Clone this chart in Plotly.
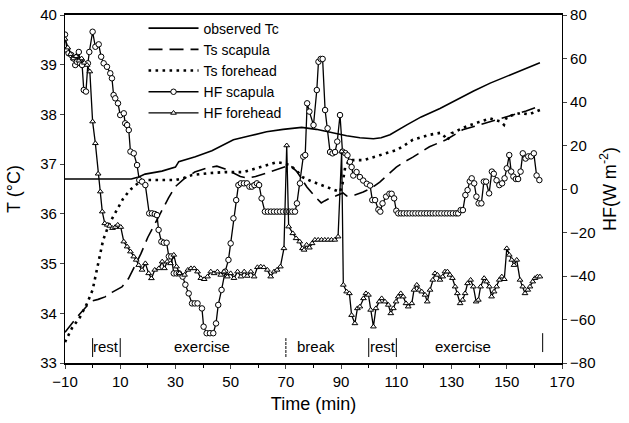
import plotly.graph_objects as go

# ---------------- data ----------------
tc_t = [-10, 0, 10, 14, 16.7, 19, 25.1, 30, 31.2, 37.2, 43.2, 51, 57, 63, 69, 75.7, 81, 87.2, 92, 96.8,
        101.7, 104.5, 107.7, 113.8, 119, 125.8, 132, 138, 144, 150, 156, 162]
tc_v = [36.70, 36.70, 36.70, 36.70, 36.74, 36.80, 36.86, 36.94, 37.05, 37.15, 37.27, 37.49, 37.57, 37.65, 37.70,
        37.74, 37.70, 37.62, 37.57, 37.53, 37.51, 37.53, 37.59, 37.79, 37.95, 38.12, 38.30, 38.47, 38.63, 38.77,
        38.91, 39.04]

tss_t = [-10, -6, -2, 0, 2, 4.5, 7, 10.6, 13, 15, 17.5, 20, 22.5, 25, 27.5, 29.8, 33, 37, 41.4, 45, 48, 51,
         53.5, 56, 59, 63, 67, 71.5, 74, 77.6, 80.5, 82.8, 84, 86, 88, 90.7, 92, 95, 98, 101, 104, 107, 110,
         113, 116, 122, 128, 134, 140, 146.5, 152, 157, 162]
tss_v = [33.62, 33.90, 34.15, 34.25, 34.28, 34.33, 34.42, 34.53, 34.70, 34.93, 35.20, 35.53, 35.80, 36.08,
         36.32, 36.54, 36.70, 36.84, 36.92, 36.96, 36.90, 36.82, 36.75, 36.72, 36.75, 36.82, 36.90, 36.98,
         36.85, 36.54, 36.35, 36.22, 36.26, 36.32, 36.36, 36.42, 36.36, 36.38, 36.44, 36.52, 36.64, 36.80,
         36.94, 37.05, 37.14, 37.35, 37.49, 37.69, 37.79, 37.89, 37.99, 38.07, 38.17]

tsf_t = [-10, -7.5, -4.6, -2, 0, 2, 3.8, 6, 8.8, 11, 13.5, 17, 20, 25, 30, 33, 36, 42.5, 48, 54.5, 57, 60.6,
         64, 66.8, 69, 71.5, 74, 76, 79, 82, 86, 89.6, 90.5, 91.5, 93, 98, 104, 110, 113, 116, 122, 126,
         127.6, 128.5, 130, 135, 140, 144, 148, 149, 150, 155, 158, 162]
tsf_v = [33.42, 33.70, 33.92, 34.20, 34.47, 35.00, 35.47, 35.80, 36.08, 36.30, 36.48, 36.64, 36.68, 36.68,
         36.68, 36.72, 36.78, 36.82, 36.84, 36.84, 36.88, 36.94, 37.00, 37.04, 37.02, 36.98, 36.86, 36.74,
         36.66, 36.60, 36.52, 36.44, 36.60, 36.95, 37.08, 37.08, 37.18, 37.28, 37.38, 37.49, 37.59, 37.63,
         37.55, 37.48, 37.62, 37.75, 37.85, 37.92, 37.85, 37.79, 37.95, 38.03, 38.00, 38.09]

hfs_t = [-10, -9.3, -8.7, -7.7, -6.9, -6.3, -5.7, -5, -4.5, -3.8, -3.2, -2.4, -1.7, -1.2, 0, 1, 2.2, 3.1, 4,
         5.2, 6.4, 7, 7.6, 8.2, 9.2, 10, 11.3, 11.8, 12.5, 13.1, 13.7, 14.9, 16.1, 16.9, 17.9, 19.1, 20.5,
         21.5, 22.5, 23.3, 23.9, 24.9, 25.8, 26.8, 27.6, 28.5, 29.4, 30.4, 31.3, 32.6, 33.6, 34.8, 36, 37, 38,
         39.6, 40.2, 41.3, 42.5, 43.7, 44.7, 45.5, 46.7, 48, 49.2, 50, 51, 52, 52.8, 53.7, 54.8, 55.9, 56.8,
         57.7, 58.6, 59.5, 60.3, 61.2, 62.4, 63.5, 64.6, 65.7, 66.8, 67.9, 69, 70.1, 71.2, 72.3, 73.3, 74,
         75.1, 76.3, 77, 77.7, 78.5, 80, 81.2, 81.8, 82.6, 83.3, 84.2, 85.1, 86, 86.9, 87.8, 88.6, 89.6, 90.5,
         91.5, 92.3, 93.2, 93.8, 94.4, 95.6, 96.8, 98, 99.3, 100.5, 101.3, 102.3, 103.5, 104.2, 105, 106.3,
         107.5, 108.3, 109.2, 110, 110.7, 111.7, 112.7, 113.8, 114.8, 115.9, 116.9, 118, 119, 120.1, 121.1,
         122.2, 123.2, 124.2, 125.3, 126.3, 127.4, 128.4, 129.5, 130.5, 131.6, 132.4, 133.3, 134.1, 135,
         135.8, 136.6, 137.3, 138.2, 139, 139.8, 140.8, 141.7, 142.5, 143.6, 144.6, 145.3, 146.3, 147.3,
         148.3, 149.2, 150, 150.9, 151.6, 152.4, 153.3, 154.1, 155, 155.8, 156.8, 157.8, 158.8, 159.8, 160.8,
         161.8]
hfs_v = [71, 64, 62.4, 61.6, 60, 57, 58.5, 63, 57.8, 57, 45.5, 44.8, 57.8, 63, 72.3, 65.4, 66.5, 60.8, 57.8,
         56.2, 53.2, 50.9, 43.2, 41.7, 39.4, 34, 34.8, 30.2, 29.4, 27.1, 17.2, 16.4, 11, 4.1, 3.4, 1.8, -11.2,
         -11.2, -11.5, -12, -18.8, -24.2, -24.7, -24.7, -31, -31, -38.8, -38.8, -38.8, -40.3, -44, -48, -52.6,
         -52.6, -52.6, -54.9, -63.3, -66.3, -66.3, -66.3, -61.8, -53.3, -46.4, -38, -32.6, -25, -13.5, -5.1,
         1.8, 2.6, 2.6, 2.6, 1.1, 1.1, 1.8, 2.6, 1.8, -4.3, -10.4, -10.4, -10.4, -10.4, -10.4, -10.4, -10.4,
         -10.4, -10.4, -10.4, -10.4, -6.6, 2.6, 14.9, 15.6, 39.4, 35.6, 29.4, 45.5, 58.5, 59.8, 59.8, 36.3,
         27.9, 17, 16.4, 17, 21.8, 34, 17.2, 16.5, 15.5, 12.5, 10.1, 6.2, 7.8, 5.5, 3.9, 2.4, 1.6, -5.1, -5.1,
         -9.5, -10.4, -6.6, -3.5, -2.2, -2.2, -4.3, -10, -11.2, -11.2, -11.2, -11.2, -11.2, -11.2, -11.2,
         -11.2, -11.2, -11.2, -11.2, -11.2, -11.2, -11.2, -11.2, -11.2, -11.2, -11.2, -11.2, -11.2, -11.2,
         -11.2, -9.7, -9.7, -2.8, -0.5, 3.5, 4.9, 2.6, -3.5, -6.6, -6.6, 3.4, 3.4, -2, 8, 7, 4, 1.8, 2.6, 4.9,
         9.5, 15.6, 8, 5.7, 4.6, 4.6, 8, 16.4, 14, 15, 15, 16.4, 6.2, 4.1]

hff_t = [-10, -9, -8, -7, -6, -5, -4, -3, -2, -1, 0, 1, 2, 2.8, 3.5, 4.4, 5.3, 6.2, 7.2, 8.2, 9.1, 10.2,
         11.3, 12.5, 13.7, 14.9, 15.8, 16.7, 17.9, 19.1, 20.3, 21.3, 22.5, 24, 25.2, 26, 27, 28.2, 29.4, 30.4,
         31.5, 33.3, 34.5, 35.6, 36.8, 38, 39.2, 40.4, 41.6, 42.8, 44, 45.2, 46.4, 47.6, 48.8, 50, 51.2, 52.5,
         53.7, 54.9, 56, 57.3, 58.5, 59.7, 60.9, 62, 63.3, 64.5, 65.7, 66.8, 68, 69.3, 70.3, 71, 72.5, 73.7,
         75, 76, 76.6, 77.5, 78.5, 79.5, 80.5, 81.7, 82.9, 84.1, 85.3, 86.5, 87.7, 88.9, 90.2, 90.8, 92, 93,
         93.8, 95, 95.9, 96.8, 98.1, 99, 99.9, 100.7, 101.7, 102.6, 103.8, 104.7, 105.9, 107.1, 108, 108.9,
         109.9, 110.7, 111.6, 112.5, 113.5, 114.3, 115.6, 116.4, 117.4, 118.3, 119.2, 120.4, 121.2, 122.2,
         123.2, 124, 124.9, 125.8, 126.8, 127.6, 128.5, 129.4, 130.3, 131.3, 132.1, 133.1, 134, 134.9, 135.8,
         136.9, 137.9, 138.9, 139.7, 140.5, 141.8, 142.7, 143.7, 144.5, 145.4, 146.3, 147.3, 148.2, 149.1,
         150, 150.9, 151.8, 152.6, 153.6, 154.8, 155.8, 156.6, 157.6, 158.4, 159.4, 160.2, 161.1, 162]
hff_v = [69, 65, 62, 60, 61, 59, 60, 58, 57, 54, 31, 21, 7, -1.2, -10.4, -15.8, -16.5, -17, -18, -17.5,
         -16.5, -17.5, -24.2, -26.5, -28.8, -31.1, -32.6, -35, -37.2, -34.2, -38.8, -41.1, -37.2, -36.5,
         -33.4, -36.5, -33.4, -34.2, -30.3, -35.7, -38.8, -39.5, -37.2, -36.5, -36.5, -38, -41, -41.5, -40.3,
         -38, -38.8, -38, -39.5, -38, -40.3, -38.8, -41, -38, -40.3, -38, -40, -38, -40.3, -36, -35.7, -36,
         -37.2, -40.3, -38, -37.2, -35.7, -27.3, 20, -17.3, -20.4, -22.7, -24.2, -27.3, -28, -25.7, -27, -25,
         -23.4, -23.4, -23.4, -23.4, -23.4, -23.4, -23.4, -21.9, 17.2, -44.1, -47.2, -48, -58, -61.8, -54.9,
         -54.1, -50.3, -48, -48.7, -55.6, -63.3, -54.9, -51.8, -50.3, -51.8, -53.3, -57.2, -54.9, -51.8,
         -49.5, -48, -49.5, -52.6, -54.1, -52.6, -46.4, -44.1, -46.4, -47.2, -48.7, -51.8, -46.4, -41.8,
         -38.8, -39.5, -41.8, -40.3, -38, -38, -39.5, -41, -44.9, -48, -52.6, -51, -48, -43.4, -41.8, -44.9,
         -51.8, -51, -44.9, -41, -42.6, -44.9, -49.5, -47.2, -44.9, -41.8, -40.3, -41.5, -27.3, -30.3, -32.6,
         -35, -32.6, -41.8, -44.9, -48, -46.4, -44.9, -42.6, -41, -40.3, -40.3]

x_ticks = [-10, 10, 30, 50, 70, 90, 110, 130, 150, 170]
phase_labels = ["rest", "exercise", "break", "rest", "exercise"]
phase_centers = [5, 39.5, 81, 105, 134]
phase_bounds = [0, 10, 70, 100, 110, 163]

# ---------------- figure ----------------
FONT = "Liberation Sans, Arial, sans-serif"
fig = go.Figure()

fig.add_trace(go.Scatter(x=tc_t, y=tc_v, mode="lines", name="observed Tc",
                         line=dict(color="black", width=1.6)))
fig.add_trace(go.Scatter(x=tss_t, y=tss_v, mode="lines", name="Ts scapula",
                         line=dict(color="black", width=1.6, dash="14px,7px")))
fig.add_trace(go.Scatter(x=tsf_t, y=tsf_v, mode="lines", name="Ts forehead",
                         line=dict(color="black", width=2.6, dash="2.6px,4.4px")))
fig.add_trace(go.Scatter(x=hfs_t, y=hfs_v, mode="lines+markers", name="HF scapula", yaxis="y2",
                         line=dict(color="black", width=1.3),
                         marker=dict(symbol="circle", size=5.5, color="white",
                                     line=dict(color="black", width=1))))
fig.add_trace(go.Scatter(x=hff_t, y=hff_v, mode="lines+markers", name="HF forehead", yaxis="y2",
                         line=dict(color="black", width=1.3),
                         marker=dict(symbol="triangle-up", size=5, color="white",
                                     line=dict(color="black", width=1))))

shapes = []
for i, b in enumerate(phase_bounds):
    top, bot = (33.60, 33.22) if b == phase_bounds[-1] else (33.50, 33.12)
    shapes.append(dict(type="line", xref="x", yref="y", x0=b, x1=b, y0=bot, y1=top,
                       line=dict(color="black", width=1, dash="3px,1px" if b == 70 else "solid")))
annotations = []
for lab, c in zip(phase_labels, phase_centers):
    annotations.append(dict(x=c, y=33.33, xref="x", yref="y", text=lab, showarrow=False,
                            font=dict(size=15, color="black", family=FONT)))

fig.update_layout(
    width=629, height=423,
    margin=dict(l=65, r=67, t=15, b=60, autoexpand=False),
    paper_bgcolor="white", plot_bgcolor="white",
    font=dict(family=FONT, color="black", size=15),
    showlegend=True,
    legend=dict(x=0.158, y=1.007, xanchor="left", yanchor="top", bgcolor="rgba(0,0,0,0)",
                font=dict(size=14), tracegroupgap=0, itemwidth=50),
    xaxis=dict(range=[-10, 170], tickvals=x_ticks, ticks="outside", ticklen=4, showline=True,
               linecolor="black", linewidth=1.5, mirror=True, showgrid=False, zeroline=False,
               automargin=False, ticklabeloverflow="allow",
               minor=dict(dtick=10, ticks="outside", ticklen=3, tickcolor="black"),
               title=dict(text="Time (min)", font=dict(size=18), standoff=9),
               tickfont=dict(size=15)),
    yaxis=dict(range=[33, 40], dtick=1, ticks="outside", ticklen=4, showline=True, linecolor="black",
               linewidth=1.2, showgrid=False, zeroline=False, automargin=False,
               ticklabeloverflow="allow",
               title=dict(text="T (°C)", font=dict(size=18), standoff=14), tickfont=dict(size=15)),
    yaxis2=dict(range=[-80, 80], dtick=20, overlaying="y", side="right", ticks="outside", ticklen=4,
                showline=True, linecolor="black", linewidth=1.2, showgrid=False, zeroline=False,
                automargin=False, ticklabeloverflow="allow",
                title=dict(text="HF(W m<sup>-2</sup>)", font=dict(size=18), standoff=8),
                tickfont=dict(size=15)),
    shapes=shapes, annotations=annotations,
)

# remove the page body's default 8px margin so the figure fills the 629x423 window; hide the modebar
fig.write_html("out.html", config={"displayModeBar": False},
               post_script="document.body.style.margin='0';")
